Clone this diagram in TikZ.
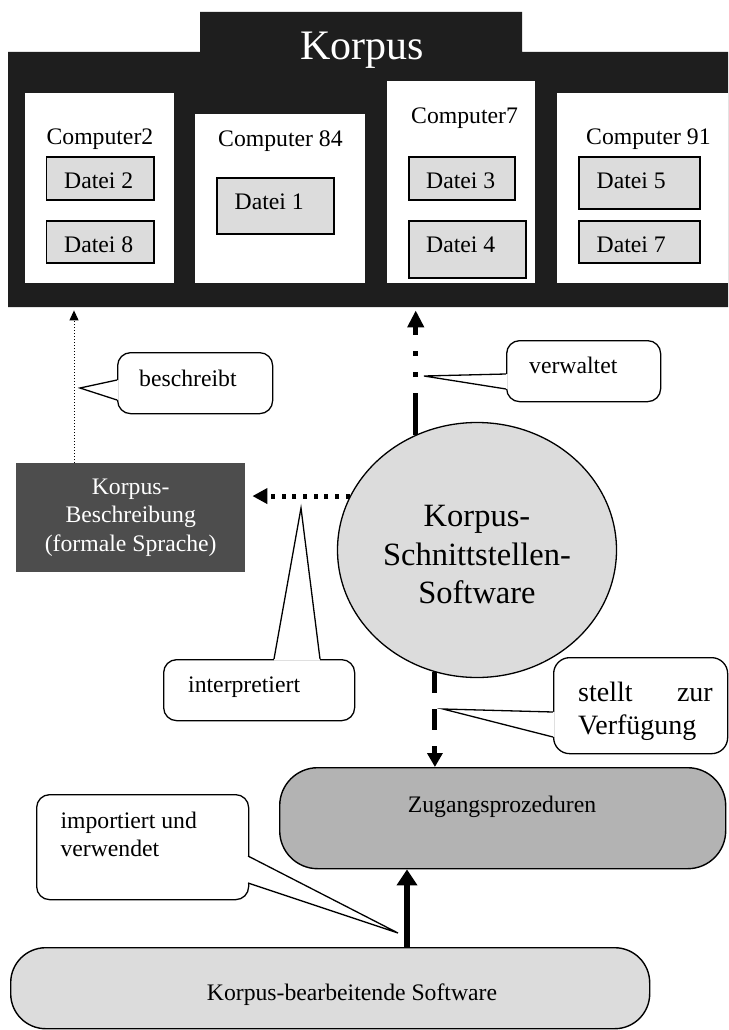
\documentclass[tikz,border=0pt]{standalone}
\usepackage{fontspec}
\setmainfont{Liberation Serif}
\usetikzlibrary{shapes.geometric,arrows.meta}
\definecolor{korpusschwarz}{HTML}{1E1E1E}
\definecolor{hellgrau}{HTML}{DCDCDC}
\definecolor{dunkelgrau}{HTML}{4D4D4D}
\definecolor{mittelgrau}{HTML}{B3B3B3}
\tikzset{
  rechner/.style={fill=white, inner sep=0pt, anchor=north west},
  datei/.style={draw, line width=1.6pt, fill=hellgrau, inner sep=0pt, anchor=north west},
  blase/.style={draw, line width=1.3pt, fill=white, rounded corners=13pt, inner sep=0pt, anchor=north west},
  zeiger/.style={line width=1.3pt},
  beschrift/.style={anchor=base west, inner sep=0pt},
  mitte/.style={anchor=base, inner sep=0pt, align=center},
}
\begin{document}
\begin{tikzpicture}[x=1pt, y=-1pt, font=\fontsize{23.7}{28.5}\selectfont]
        \useasboundingbox (0,0) rectangle (728,1030);
        \fill[korpusschwarz] (8,52) -- (200,52) -- (200,12) -- (522,12) -- (522,52) -- (728,52) -- (728,307) -- (8,307) -- cycle;
        \node[inner sep=0pt, minimum width=720pt, minimum height=255pt, anchor=north west] (korpus) at (8,52) {};
        \node[mitte, text=white, font=\fontsize{42}{48}\selectfont] (titel) at (362,60) {Korpus};
        \node[rechner, minimum width=149pt, minimum height=190pt] (c2) at (25,93) {};
        \node[rechner, minimum width=170pt, minimum height=169pt] (c84) at (195,114) {};
        \node[rechner, minimum width=148pt, minimum height=202pt] (c7) at (387,81) {};
        \node[rechner, minimum width=171pt, minimum height=190pt] (c91) at (557,93) {};
        \node[beschrift] (c2name) at (46.4,144) {Computer2};
        \node[beschrift] (c84name) at (218,146.7) {Computer 84};
        \node[beschrift] (c7name) at (411,124) {Computer7};
        \node[beschrift] (c91name) at (586,144) {Computer 91};
        \node[datei, minimum width=107.5pt, minimum height=43pt] (d2) at (45.5,156) {};
        \node[datei, minimum width=107.5pt, minimum height=42pt] (d8) at (45.5,220) {};
        \node[datei, minimum width=117pt, minimum height=56pt] (d1) at (216,177) {};
        \node[datei, minimum width=106pt, minimum height=43pt] (d3) at (408,156) {};
        \node[datei, minimum width=117pt, minimum height=57pt] (d4) at (408,220) {};
        \node[datei, minimum width=121pt, minimum height=52pt] (d5) at (578,156) {};
        \node[datei, minimum width=121pt, minimum height=42pt] (d7) at (578,220) {};
        \node[beschrift] (d2name) at (64,188) {Datei 2};
        \node[beschrift] (d8name) at (64,252) {Datei 8};
        \node[beschrift] (d1name) at (234.5,209) {Datei 1};
        \node[beschrift] (d3name) at (426,188) {Datei 3};
        \node[beschrift] (d4name) at (426,252) {Datei 4};
        \node[beschrift] (d5name) at (596.5,188) {Datei 5};
        \node[beschrift] (d7name) at (596.5,252) {Datei 7};

        \node[fill=dunkelgrau, text=white, align=center, inner sep=0pt, minimum width=229pt, minimum height=109pt, anchor=north west] (beschr) at (16,463) {Korpus-\\Beschreibung\\(formale Sprache)};
        \node[ellipse, draw, line width=1.3pt, fill=hellgrau, inner sep=0pt, minimum width=279pt, minimum height=255pt] (sw) at (477,550) {};
        \node[mitte, font=\fontsize{32.5}{38.3}\selectfont] (swname) at (477,603.3) {Korpus-\\Schnittstellen-\\Software};
        \node[draw, line width=1.4pt, fill=mittelgrau, rounded corners=38pt, inner sep=0pt, minimum width=446pt, minimum height=101pt, anchor=north west] (zug) at (279,767) {};
        \node[mitte] (zugname) at (502,812.7) {Zugangsprozeduren};
        \node[draw, line width=1.4pt, fill=hellgrau, rounded corners=35pt, inner sep=0pt, minimum width=639pt, minimum height=81pt, anchor=north west] (kbs) at (10,947) {};
        \node[mitte] (kbsname) at (352,1000) {Korpus-bearbeitende Software};

        \coordinate (besX) at (74,0);
        \coordinate (impX) at (407,0);
        \draw[line width=1pt, dotted, -{Triangle[width=9pt,length=10pt]}, shorten >=3pt] (besX |- beschr.north) -- (besX |- korpus.south);
        \draw[line width=5pt, dash pattern=on 42pt off 16pt on 5pt off 16pt on 5pt off 16pt, -{Triangle[width=16pt,length=17pt]}, shorten >=3pt] (sw.118.5) -- (sw.118.5 |- korpus.south);
        \draw[line width=5pt, dash pattern=on 4pt off 6.7pt, -{Triangle[width=15pt,length=15pt]}, shorten >=7pt] (sw.157.3) -- (sw.157.3 -| beschr.east);
        \draw[line width=5pt, dash pattern=on 21pt off 16pt, -{Triangle[width=15pt,length=14pt]}] (sw.251.4) -- (sw.251.4 |- zug.north);
        \draw[line width=6pt, -{Triangle[width=20pt,length=16pt]}] (impX |- kbs.north) -- (impX |- zug.south);

        \node[blase, minimum width=155pt, minimum height=61pt] (beschreibt) at (117,352) {};
        \fill[white] (118.5,380) -- (80,388) -- (118.5,400) -- cycle;
        \draw[zeiger] (117,380) -- (80,388) -- (117,400);
        \node[beschrift] (beschreibtname) at (139,386) {beschreibt};
        \node[blase, minimum width=154pt, minimum height=61pt] (verwaltet) at (506,340) {};
        \fill[white] (507.5,374) -- (424,376) -- (507.5,389) -- cycle;
        \draw[zeiger] (506,374) -- (424,376) -- (506,389);
        \node[beschrift] (verwaltetname) at (529,373) {verwaltet};
        \node[blase, minimum width=191pt, minimum height=61pt] (interpretiert) at (163,659) {};
        \fill[white] (274,660.5) -- (301,508) -- (320,660.5) -- cycle;
        \draw[zeiger] (274,659) -- (301,508) -- (320,659);
        \node[beschrift] (interpretiertname) at (188,692.7) {interpretiert};
        \node[blase, rounded corners=16pt, minimum width=174pt, minimum height=96pt] (stellt) at (553,657) {};
        \fill[white] (554.5,712) -- (443,709) -- (554.5,737) -- cycle;
        \draw[zeiger] (553,712) -- (443,709) -- (553,737);
        \node[beschrift, font=\fontsize{28}{32.3}\selectfont, align=left] (stelltname) at (578,734) {\makebox[134.6pt][s]{stellt\hfill zur}\\Verfügung};
        \node[blase, minimum width=212pt, minimum height=105pt] (importiert) at (36,794) {};
        \fill[white] (246.5,856) -- (398,933) -- (246.5,883) -- cycle;
        \draw[zeiger] (248,856) -- (398,933) -- (248,883);
        \node[beschrift, align=left] (importiertname) at (60.4,856.7) {importiert und\\verwendet};
\end{tikzpicture}
\end{document}
